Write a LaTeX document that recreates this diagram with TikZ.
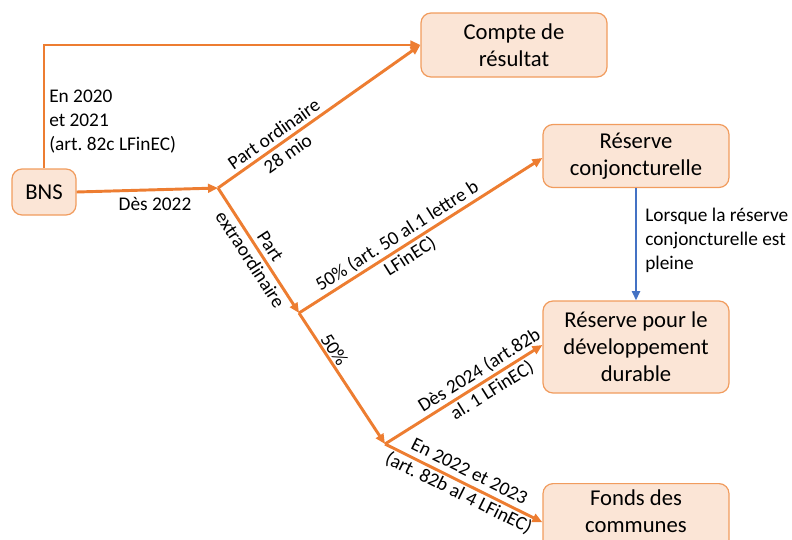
\documentclass[tikz,border=0pt]{standalone}
\usepackage{fontspec}
\setmainfont{Carlito}
\usetikzlibrary{arrows.meta}
\definecolor{orangeline}{HTML}{ED7D31}
\definecolor{boxfill}{HTML}{FBE5D6}
\definecolor{boxdraw}{HTML}{F19C5E}
\definecolor{blueline}{HTML}{4472C4}
\tikzset{
  box/.style={draw=boxdraw, line width=0.9pt, fill=boxfill, rounded corners=7.5pt,
    align=center, font=\fontsize{17}{20.3}\selectfont, inner sep=0pt},
  flow/.style={draw=orangeline, line width=2.2pt, -{Triangle[length=7.5pt,width=6.5pt]}},
  blueflow/.style={draw=blueline, line width=1.6pt, -{Triangle[length=7pt,width=6pt]}},
  lbl/.style={font=\fontsize{14.5}{18}\selectfont, align=center, inner sep=1pt},
  lblleft/.style={font=\fontsize{14.5}{18}\selectfont, align=left, inner sep=0pt}
}
\begin{document}
\frenchspacing
\begin{tikzpicture}[x=0.75pt,y=-0.75pt]
\useasboundingbox (0,0) rectangle (792,539);
\clip (0,0) rectangle (792,539);
% nodes
\node[box, minimum width=64*0.75pt, minimum height=46*0.75pt] (bns) at (44,192) {BNS};
\node[box, minimum width=186*0.75pt, minimum height=64*0.75pt] (cr) at (514,45) {Compte de\\résultat};
\node[box, minimum width=186*0.75pt, minimum height=63*0.75pt] (rc) at (636,156) {Réserve\\conjoncturelle};
\node[box, minimum width=186*0.75pt, minimum height=92*0.75pt] (rd) at (636,347) {Réserve pour le\\développement\\durable};
\node[box, minimum width=186*0.75pt, minimum height=80*0.75pt, anchor=north] (fc) at (636,483) {};
\node[font=\fontsize{17}{20.3}\selectfont, align=center, anchor=north, inner sep=0pt] (fctext) at (636,489) {Fonds des\\communes};
% junctions
\coordinate (j1) at (218,188);
\coordinate (j2) at (299,313);
\coordinate (j3) at (385,444);
% connectors
\draw[flow] (bns.north) |- (cr.west);
\draw[flow] (bns.east) -- (j1);
\draw[flow] (j1) -- (cr.west)
  node[lbl, sloped, pos=0.31] {Part ordinaire\\28 mio};
\draw[flow] (j1) -- (j2)
  node[lbl, sloped, pos=0.52] {Part\\extraordinaire};
\draw[flow] (j2) -- ([yshift=-1.5pt]rc.west)
  node[lbl, sloped, pos=0.43] {50\% (art. 50 al.1 lettre b\\LFinEC)};
\draw[flow] (j2) -- (j3)
  node[lbl, sloped, above, pos=0.32] {50\%};
\draw[flow] (j3) -- ([yshift=1.5pt]rd.west)
  node[lbl, sloped, pos=0.64] {Dès 2024 (art.82b\\al. 1 LFinEC)};
\draw[flow] (j3) -- ([yshift=1pt]fc.west)
  node[lbl, sloped, pos=0.5] {En 2022 et 2023\\(art. 82b al 4 LFinEC)};
\draw[blueflow] (rc.south) -- (rd.north);
% free labels
\node[lblleft, anchor=north west] (l2020) at (49,90) {En 2020\\et 2021\\(art. 82c LFinEC)};
\node[lbl] (l2022) at (155,204) {Dès 2022};
\node[lblleft, anchor=north west] (lpleine) at (645,208) {Lorsque la réserve\\conjoncturelle est\\pleine};
\end{tikzpicture}
\end{document}
